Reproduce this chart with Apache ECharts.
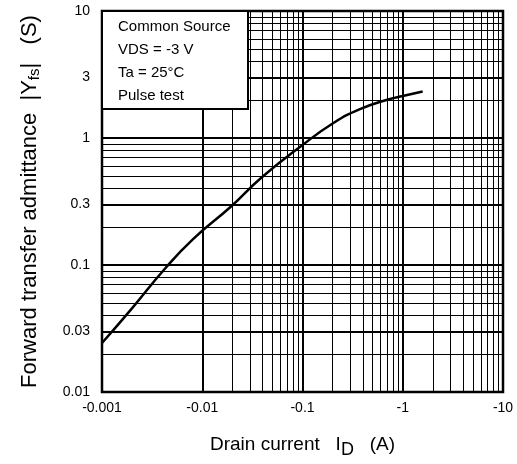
<!DOCTYPE html>
<html>
<head>
<meta charset="utf-8">
<script src="https://cdn.jsdelivr.net/npm/echarts@6/dist/echarts.min.js"></script>
<style>
  html, body { margin: 0; padding: 0; background: #fff; }
  #chart { width: 517px; height: 464px; }
</style>
</head>
<body>
<div id="chart"></div>
<script>
// curve: |Yfs| (S) against -ID (A, magnitude)
var drainCurrent = [0.001, 0.002, 0.00424, 0.0081, 0.0195, 0.0388, 0.1, 0.2, 0.369, 0.73, 1.0, 1.58];
var admittance = [0.0243, 0.0458, 0.0935, 0.16, 0.290, 0.486, 0.88, 1.30, 1.68, 2.02, 2.14, 2.32];

// tick labels
var yTickLabels = [0.01, 0.03, 0.1, 0.3, 1, 3, 10];

// grid lines of the log paper
var xMajorGrid = [0.01, 0.1, 1];
var xMinorGrid = [0.002, 0.003, 0.004, 0.005, 0.006, 0.007, 0.008, 0.009,
                  0.02, 0.03, 0.04, 0.05, 0.06, 0.07, 0.08, 0.09,
                  0.2, 0.3, 0.4, 0.5, 0.6, 0.7, 0.8, 0.9,
                  2, 3, 4, 5, 6, 7, 8, 9];
var yMajorGrid = [0.03, 0.1, 0.3, 1, 3];
var yMinorGrid = [0.02, 0.04, 0.05, 0.06, 0.07, 0.08, 0.09,
                  0.2, 0.4, 0.5, 0.6, 0.7, 0.8, 0.9,
                  2, 4, 5, 6, 7, 8, 9];

var legendLines = ['Common Source', 'VDS = -3 V', 'Ta = 25°C', 'Pulse test'];

var FONT = 'Liberation Sans, Arial, sans-serif';

var chart = echarts.init(document.getElementById('chart'), null, { renderer: 'canvas' });

var gridLines = [];
xMinorGrid.forEach(function (v) {
  gridLines.push({ xAxis: v, lineStyle: { width: 1 } });
});
xMajorGrid.forEach(function (v) {
  gridLines.push({ xAxis: v, lineStyle: { width: 2 } });
});
yMinorGrid.forEach(function (v) {
  gridLines.push({ yAxis: v, lineStyle: { width: 1 } });
});
yMajorGrid.forEach(function (v) {
  gridLines.push({ yAxis: v, lineStyle: { width: 2 } });
});
// y labels (0.03, 0.3, 3 are not decades, so all of them go through markLine)
var yLabelLines = yTickLabels.map(function (v) {
  return {
    yAxis: v,
    lineStyle: { width: 1, color: 'rgba(0,0,0,0)' },
    label: {
      show: true,
      position: 'start',
      distance: 12,
      formatter: String(v),
      color: '#000',
      opacity: 1,
      fontFamily: FONT,
      fontSize: 14
    }
  };
});

var curve = drainCurrent.map(function (x, i) { return [x, admittance[i]]; });

var option = {
  animation: false,
  backgroundColor: '#fff',
  grid: {
    left: 102, right: 14, top: 11, bottom: 72,
    show: true, borderColor: '#000', borderWidth: 2.5, backgroundColor: 'transparent'
  },
  xAxis: {
    type: 'log',
    min: 0.001,
    max: 10,
    axisLine: { show: false },
    axisTick: { show: false },
    splitLine: { show: false },
    axisLabel: {
      color: '#000', fontFamily: FONT, fontSize: 14, margin: 9,
      formatter: function (v) { return '-' + v; }
    },
    name: 'Drain current   I{s|D}   (A)',
    nameLocation: 'middle',
    nameGap: 39,
    nameTextStyle: {
      color: '#000', fontFamily: FONT, fontSize: 19,
      rich: {
        s: { fontFamily: FONT, fontSize: 18, color: '#000', padding: [10, 0, 0, 0] }
      }
    }
  },
  yAxis: {
    type: 'log',
    min: 0.01,
    max: 10,
    axisLine: { show: false },
    axisTick: { show: false },
    splitLine: { show: false },
    axisLabel: { show: false },
    name: 'Forward transfer admittance  |Y{s|fs}|   (S)',
    nameLocation: 'middle',
    nameRotate: 90,
    nameGap: 60,
    nameTextStyle: {
      color: '#000', fontFamily: FONT, fontSize: 22,
      rich: {
        s: { fontFamily: FONT, fontSize: 15, color: '#000', padding: [10, 0, 0, 0] }
      }
    }
  },
  series: [
    {
      type: 'line',
      data: curve,
      smooth: 0.5,
      showSymbol: false,
      lineStyle: { color: '#000', width: 2.5 },
      z: 5,
      markLine: {
        silent: true,
        symbol: 'none',
        label: { show: false },
        lineStyle: { color: '#000', type: 'solid' },
        data: gridLines.concat(yLabelLines)
      }
    }
  ],
  graphic: [
    {
      type: 'rect',
      left: 101,
      top: 10,
      z: 100,
      shape: { x: 0, y: 0, width: 146, height: 98 },
      style: { fill: '#fff', stroke: '#000', lineWidth: 2 }
    },
    {
      type: 'text',
      left: 118,
      top: 15,
      z: 101,
      style: {
        text: legendLines.join('\n'),
        font: '15px ' + FONT,
        lineHeight: 23,
        fill: '#000'
      }
    }
  ]
};

chart.setOption(option);
</script>
</body>
</html>
